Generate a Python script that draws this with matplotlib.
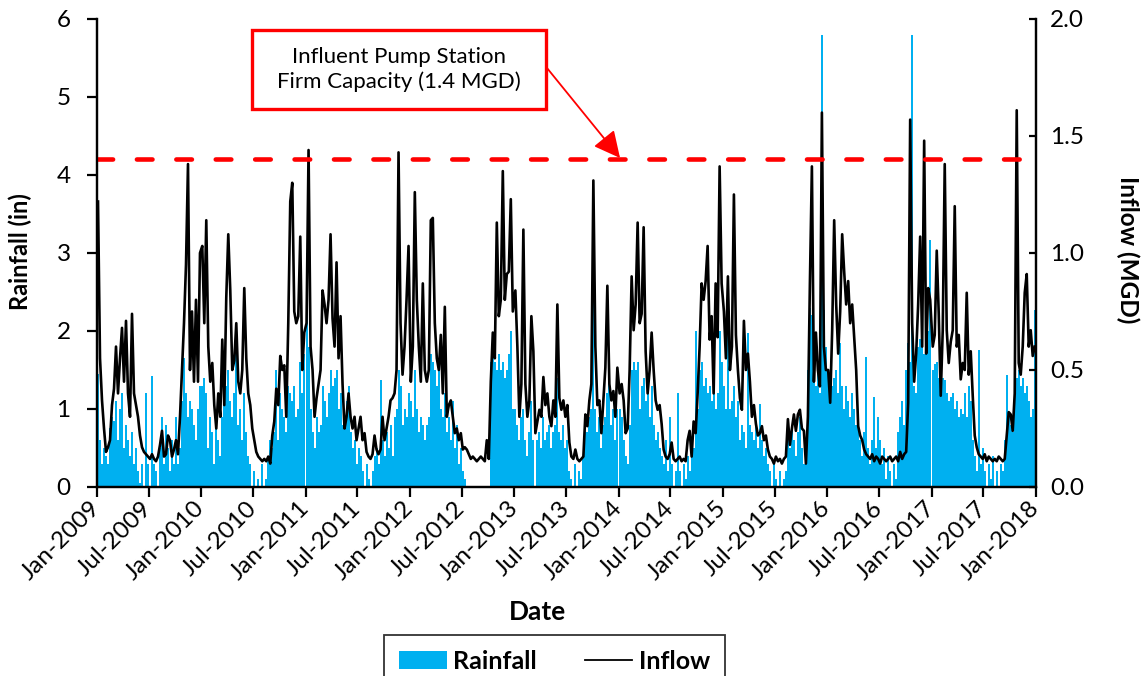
import matplotlib
matplotlib.use('Agg')
import matplotlib.pyplot as plt
import matplotlib.dates as mdates
import numpy as np
import pandas as pd
from matplotlib.patches import Rectangle, Patch
from matplotlib.lines import Line2D

plt.rcParams['font.family'] = ['Lato', 'DejaVu Sans']

# weekly values (one list per year, weeks from Jan 1)
years = [2009, 2010, 2011, 2012, 2013, 2014, 2015, 2016, 2017]

inflow_2009 = [1.22, 0.55, 0.37, 0.25, 0.15, 0.17, 0.2, 0.35, 0.42, 0.6,
               0.4, 0.55, 0.68, 0.45, 0.71, 0.4, 0.3, 0.74, 0.4, 0.35,
               0.3, 0.22, 0.17, 0.15, 0.14, 0.13, 0.12, 0.14, 0.12, 0.11,
               0.13, 0.18, 0.24, 0.13, 0.14, 0.22, 0.2, 0.13, 0.16, 0.2,
               0.14, 0.3, 0.5, 0.7, 0.95, 1.38, 0.5, 0.75, 0.45, 0.8,
               0.45, 1.0]
inflow_2010 = [1.03, 0.7, 1.14, 0.6, 0.45, 0.53, 0.35, 0.25, 0.4, 0.3,
               0.63, 0.35, 0.81, 1.08, 0.84, 0.5, 0.54, 0.7, 0.45, 0.4,
               0.5, 0.85, 0.55, 0.4, 0.35, 0.25, 0.2, 0.15, 0.13, 0.12,
               0.11, 0.12, 0.11, 0.13, 0.1, 0.22, 0.28, 0.42, 0.35, 0.56,
               0.5, 0.52, 0.3, 0.7, 1.22, 1.3, 0.75, 0.7, 0.73, 1.07,
               0.5, 0.66]
inflow_2011 = [0.7, 1.44, 0.6, 0.5, 0.3, 0.38, 0.44, 0.5, 0.84, 0.78,
               0.7, 0.8, 1.08, 0.72, 0.6, 0.96, 0.55, 0.73, 0.44, 0.25,
               0.3, 0.4, 0.3, 0.25, 0.3, 0.2, 0.25, 0.3, 0.2, 0.23,
               0.15, 0.13, 0.12, 0.14, 0.22, 0.16, 0.14, 0.16, 0.3, 0.2,
               0.25, 0.3, 0.37, 0.38, 0.4, 0.5, 1.43, 0.7, 0.48, 0.6,
               0.8, 1.03]
inflow_2012 = [0.45, 0.6, 1.26, 0.8, 0.6, 0.45, 0.87, 0.5, 0.45, 0.5,
               1.14, 1.15, 0.7, 0.55, 0.5, 0.65, 0.4, 0.77, 0.3, 0.35,
               0.37, 0.3, 0.23, 0.25, 0.2, 0.23, 0.16, 0.17, 0.16, 0.14,
               0.12, 0.13, 0.12, 0.11, 0.12, 0.13, 0.12, 0.11, 0.2, 0.12,
               0.45, 0.66, 0.55, 1.13, 0.73, 0.8, 1.35, 0.8, 0.91, 0.92,
               1.23, 0.75]
inflow_2013 = [0.84, 0.6, 0.3, 0.44, 1.1, 0.44, 0.3, 0.37, 0.73, 0.58,
               0.23, 0.28, 0.33, 0.3, 0.47, 0.35, 0.4, 0.3, 0.26, 0.37,
               0.3, 0.78, 0.38, 0.33, 0.37, 0.3, 0.35, 0.19, 0.13, 0.12,
               0.16, 0.12, 0.11, 0.12, 0.13, 0.31, 0.26, 0.37, 0.44, 1.31,
               0.6, 0.35, 0.37, 0.23, 0.37, 0.51, 0.86, 0.44, 0.37, 0.41,
               0.3, 0.51]
inflow_2014 = [0.4, 0.44, 0.37, 0.23, 0.25, 0.5, 0.9, 0.67, 0.78, 1.13,
               0.7, 0.74, 1.11, 0.58, 0.4, 0.5, 0.66, 0.5, 0.37, 0.33,
               0.35, 0.27, 0.16, 0.13, 0.12, 0.14, 0.19, 0.12, 0.11, 0.12,
               0.13, 0.11, 0.12, 0.11, 0.2, 0.24, 0.13, 0.28, 0.23, 0.4,
               0.6, 0.87, 0.8, 0.88, 1.03, 0.63, 0.73, 0.4, 0.87, 0.64,
               1.37, 0.87]
inflow_2015 = [0.75, 0.55, 0.9, 0.5, 0.6, 1.25, 0.65, 0.5, 0.38, 0.33,
               0.71, 0.5, 0.57, 0.45, 0.3, 0.35, 0.27, 0.22, 0.23, 0.26,
               0.2, 0.22, 0.16, 0.13, 0.12, 0.1, 0.13, 0.11, 0.12, 0.1,
               0.12, 0.13, 0.29, 0.18, 0.25, 0.31, 0.24, 0.31, 0.33, 0.25,
               0.24, 0.1, 0.3, 0.87, 1.37, 0.45, 0.66, 0.5, 0.43, 1.6,
               0.6, 0.5]
inflow_2016 = [0.5, 0.36, 0.67, 1.14, 0.78, 0.57, 0.75, 1.08, 0.92, 0.78,
               0.88, 0.7, 0.78, 0.64, 0.5, 0.26, 0.22, 0.2, 0.16, 0.14,
               0.13, 0.12, 0.14, 0.11, 0.13, 0.12, 0.1, 0.13, 0.12, 0.11,
               0.12, 0.13, 0.11, 0.12, 0.13, 0.11, 0.15, 0.12, 0.14, 0.15,
               0.36, 1.57, 0.7, 0.45, 0.57, 0.78, 1.07, 0.6, 1.48, 0.57,
               0.85, 0.8]
inflow_2017 = [0.6, 0.65, 1.01, 0.74, 0.39, 0.67, 1.38, 0.67, 0.53, 0.62,
               0.67, 1.2, 0.6, 0.65, 0.46, 0.53, 0.5, 0.83, 0.48, 0.58,
               0.39, 0.22, 0.17, 0.14, 0.13, 0.12, 0.14, 0.11, 0.13, 0.12,
               0.11, 0.12, 0.11, 0.13, 0.12, 0.11, 0.12, 0.22, 0.32, 0.31,
               0.24, 0.4, 1.61, 0.53, 0.48, 0.6, 0.83, 0.91, 0.6, 0.67,
               0.56, 0.6]

rain_2009 = [1.45, 0.6, 0.3, 0.5, 0.4, 0.3, 0.75, 0.9, 0.85, 1.1,
             0.6, 1.0, 1.2, 0.5, 0.8, 0.6, 0.4, 0.7, 0.3, 0.5,
             0.2, 0.05, 0.3, 0.0, 1.2, 0.3, 0.0, 1.42, 0.3, 0.2,
             0.0, 0.5, 0.9, 0.3, 0.8, 0.5, 0.2, 0.6, 0.3, 0.9,
             0.3, 0.5, 1.1, 1.65, 1.2, 0.9, 1.1, 1.0, 0.8, 0.6,
             1.0, 1.3]
rain_2010 = [1.3, 1.4, 1.2, 0.5, 0.9, 0.7, 0.3, 0.8, 0.6, 0.4,
             0.9, 1.2, 1.3, 1.5, 1.1, 0.9, 1.2, 2.0, 0.8, 1.0,
             0.6, 1.2, 0.7, 0.4, 0.3, 0.0, 0.2, 0.0, 0.1, 0.0,
             0.3, 0.0, 0.1, 0.4, 0.6, 0.5, 0.7, 1.5, 0.6, 1.2,
             1.0, 0.9, 0.7, 1.3, 1.2, 1.1, 1.3, 0.9, 1.0, 1.6,
             1.2, 1.7]
rain_2011 = [3.0, 1.8, 1.0, 0.7, 0.5, 0.9, 0.7, 0.8, 1.3, 1.1,
             0.9, 1.2, 1.5, 1.3, 1.4, 1.5, 1.0, 1.2, 0.8, 0.9,
             1.1, 1.3, 0.7, 0.5, 0.6, 0.3, 0.5, 0.4, 0.2, 0.0,
             0.3, 0.1, 0.0, 0.2, 0.4, 0.5, 0.3, 1.37, 0.6, 0.4,
             0.7, 0.5, 0.8, 0.4, 0.9, 1.0, 1.5, 1.3, 0.8, 1.0,
             0.9, 1.2]
rain_2012 = [1.1, 0.9, 1.5, 1.0, 0.7, 0.9, 0.8, 0.6, 0.8, 0.9,
             1.7, 1.6, 1.5, 1.3, 1.6, 1.0, 0.9, 1.2, 0.7, 0.9,
             0.6, 1.1, 0.5, 0.8, 0.3, 0.5, 0.2, 0.1, 0.0, 0.0,
             0.0, 0.0, 0.0, 0.0, 0.0, 0.0, 0.0, 0.0, 0.0, 0.0,
             1.6, 1.8, 1.6, 1.5, 1.7, 1.5, 1.6, 1.4, 1.5, 1.7,
             2.0, 1.0]
rain_2013 = [1.0, 0.8, 0.6, 0.9, 1.0, 0.6, 0.4, 0.7, 1.1, 0.6,
             0.0, 0.6, 0.7, 0.5, 0.9, 0.6, 0.7, 0.8, 0.5, 0.7,
             0.8, 1.4, 0.7, 0.6, 0.8, 0.5, 0.6, 0.2, 0.1, 0.0,
             0.3, 0.0, 0.2, 0.1, 0.4, 0.9, 0.7, 0.9, 1.0, 2.74,
             1.0, 0.7, 0.9, 0.5, 0.8, 0.9, 1.2, 1.46, 0.8, 1.0,
             0.6, 1.0]
rain_2014 = [1.0, 0.9, 0.6, 0.4, 0.3, 0.8, 1.5, 1.6, 1.5, 1.6,
             1.0, 1.3, 1.4, 1.1, 1.2, 0.9, 1.3, 0.8, 0.6, 0.7,
             0.5, 0.4, 0.3, 0.6, 0.2, 0.9, 0.3, 0.0, 0.2, 1.2,
             0.2, 0.0, 0.3, 0.1, 0.4, 0.2, 0.6, 0.5, 2.0, 1.0,
             1.5, 1.6, 1.3, 1.4, 1.2, 1.3, 1.1, 1.4, 1.0, 1.2,
             2.0, 1.6]
rain_2015 = [1.3, 1.0, 2.48, 1.0, 1.1, 1.3, 0.9, 1.1, 0.6, 0.8,
             0.7, 0.5, 1.97, 0.8, 0.7, 0.6, 0.8, 0.5, 1.07, 0.6,
             0.4, 0.5, 0.3, 0.2, 0.0, 0.3, 0.1, 0.0, 0.2, 0.0,
             0.1, 0.2, 0.7, 0.5, 0.8, 0.6, 0.4, 0.7, 0.9, 0.5,
             0.3, 0.6, 1.5, 2.3, 2.2, 1.6, 1.3, 1.5, 1.2, 5.8,
             2.27, 1.8]
rain_2016 = [1.5, 1.1, 1.3, 1.4, 1.5, 1.2, 1.84, 1.3, 1.0, 1.3,
             1.1, 0.9, 1.2, 1.0, 0.8, 0.9, 0.6, 0.4, 0.7, 1.67,
             0.5, 0.3, 0.6, 1.16, 0.5, 0.9, 0.6, 0.3, 0.5, 0.1,
             0.4, 0.2, 0.0, 0.3, 0.1, 0.7, 0.9, 1.1, 0.8, 1.5,
             1.84, 1.6, 5.8, 1.3, 1.2, 1.8, 1.9, 2.0, 1.7, 1.9,
             2.0, 3.17]
rain_2017 = [1.5, 1.58, 1.6, 1.4, 1.3, 1.4, 1.37, 1.2, 1.1, 1.15,
             1.2, 1.0, 1.1, 0.9, 1.0, 0.94, 1.2, 0.9, 1.3, 1.1,
             0.6, 0.4, 0.2, 1.76, 0.3, 0.5, 0.2, 0.0, 0.3, 0.1,
             0.4, 0.0, 0.2, 0.0, 0.3, 0.2, 0.6, 1.44, 0.9, 0.8,
             0.7, 1.2, 1.4, 1.5, 1.3, 1.4, 1.2, 1.3, 1.1, 0.9,
             1.0, 2.27]

capacity = 1.4  # MGD
xtick_dates = pd.date_range('2009-01-01', '2018-01-01', freq='6MS')

inflow_years = [inflow_2009, inflow_2010, inflow_2011, inflow_2012, inflow_2013,
                inflow_2014, inflow_2015, inflow_2016, inflow_2017]
rain_years = [rain_2009, rain_2010, rain_2011, rain_2012, rain_2013,
              rain_2014, rain_2015, rain_2016, rain_2017]

dates = pd.DatetimeIndex(np.concatenate(
    [pd.date_range(f'{y}-01-01', periods=len(v), freq='7D').values
     for y, v in zip(years, inflow_years)]))
xnum = mdates.date2num(dates)  # day numbers, so bar widths are in days
inflow = np.concatenate(inflow_years)
rain = np.concatenate(rain_years)

fig = plt.figure(figsize=(11.44, 6.76), dpi=100)
ax = fig.add_axes([0.0848, 0.2796, 0.8208, 0.6923])
ax2 = ax.twinx()

ax.bar(xnum, rain, width=7.0, align='edge', color='#00B0F0', linewidth=0)
ax2.plot(xnum + 3.5, inflow, color='black', lw=1.9)
ax2.axhline(capacity, color='#FF0000', lw=3.3, ls=(0, (3.4, 5.2)),
            dash_capstyle='round')

ax.set_xlim(mdates.date2num(pd.Timestamp('2009-01-01')),
            mdates.date2num(pd.Timestamp('2018-01-01')))
ax.set_ylim(0, 6)
ax2.set_ylim(0, 2)
ax.set_yticks(range(7))
ax2.set_yticks([0, 0.5, 1.0, 1.5, 2.0])
ax2.set_yticklabels([f'{v:.1f}' for v in [0, 0.5, 1.0, 1.5, 2.0]])
ax.set_xticks(mdates.date2num(xtick_dates))
ax.set_xticklabels([d.strftime('%b-%Y') for d in xtick_dates])

for a in (ax, ax2):
    a.spines['top'].set_visible(False)
    for s in ('left', 'right', 'bottom'):
        a.spines[s].set_linewidth(1.6)

ax.tick_params(axis='x', direction='out', length=7, width=1.6, labelsize=17.5, pad=6)
ax.tick_params(axis='y', direction='out', length=7, width=1.6, labelsize=17.5, pad=12)
ax2.tick_params(axis='y', direction='in', length=5, width=1.6, labelsize=17.5, pad=10)
for lab in ax.get_xticklabels():
    lab.set_rotation(45)
    lab.set_ha('right')
    lab.set_va('center')
    lab.set_rotation_mode('anchor')

ax.set_ylabel('Rainfall (in)', fontsize=17, fontweight='bold', va='center', ha='center')
ax.yaxis.set_label_coords(-0.082, 0.503)
ax2.set_ylabel('Inflow (MGD)', fontsize=17.5, fontweight='bold', rotation=270,
               va='center', ha='center')
ax2.yaxis.set_label_coords(1.098, 0.506)
ax.set_xlabel('Date', fontsize=19, fontweight='bold', va='center', ha='center')
ax.xaxis.set_label_coords(0.4686, -0.267)

# callout box with arrow to the capacity line
box = Rectangle((0.165, 0.8077), 0.313, 0.1688, transform=ax.transAxes,
                facecolor='white', edgecolor='#FF0000', lw=2.4, clip_on=False, zorder=5)
ax2.add_patch(box)
ax2.text(0.3216, 0.892, 'Influent Pump Station\nFirm Capacity (1.4 MGD)',
         transform=ax.transAxes, ha='center', va='center', fontsize=16,
         linespacing=1.25, zorder=6)
ax2.annotate('', xy=(0.557, 0.703), xytext=(0.4792, 0.8953),
             xycoords='axes fraction', textcoords='axes fraction',
             arrowprops=dict(arrowstyle='-|>,head_length=0.9,head_width=0.45',
                             color='#FF0000', lw=1.3, mutation_scale=18,
                             shrinkA=0, shrinkB=0))

handles = [Patch(facecolor='#00B0F0', label='Rainfall'),
           Line2D([], [], color='black', lw=1.3, label='Inflow')]
leg = fig.legend(handles=handles, ncol=2, loc='upper left',
                 bbox_to_anchor=(0.3357, -0.3, 0.298, 0.3607), mode='expand',
                 frameon=True, fancybox=False, edgecolor='black',
                 prop=dict(weight='bold', size=18), handlelength=1.9,
                 handletextpad=0.25, columnspacing=1.1, borderpad=0.6,
                 borderaxespad=0)
leg.get_frame().set_linewidth(1.3)

fig.savefig('out.png', dpi=100)
